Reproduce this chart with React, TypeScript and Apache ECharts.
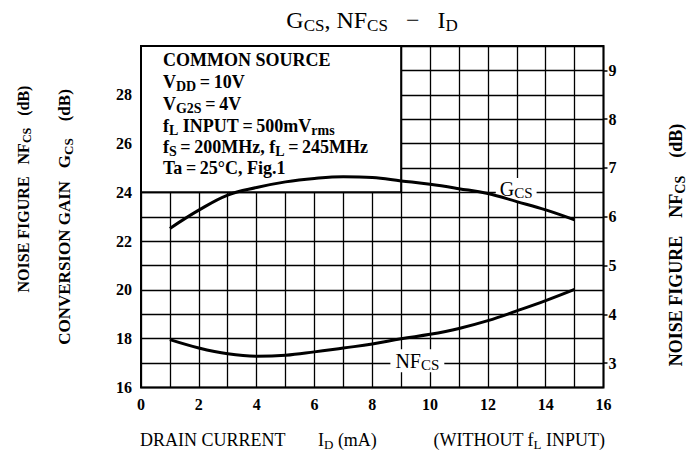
import React, { useEffect, useRef } from 'react';
import * as echarts from 'echarts';

// Drain current I_D (mA)
const currentMA = [1, 2, 3, 4, 5, 6, 7, 8, 9, 10, 11, 12, 13, 14, 15];
// Conversion gain G_CS (dB), left axis
const gcsDb = [22.52, 23.27, 23.89, 24.2, 24.43, 24.57, 24.64, 24.61, 24.47, 24.33, 24.15, 23.95, 23.62, 23.28, 22.87];
// Noise figure NF_CS (dB), right axis
const nfcsDb = [3.48, 3.31, 3.19, 3.14, 3.16, 3.23, 3.31, 3.39, 3.5, 3.59, 3.71, 3.87, 4.07, 4.28, 4.51];

const xTickLabels = [0, 2, 4, 6, 8, 10, 12, 14, 16];
const gainTickLabels = [16, 18, 20, 22, 24, 26, 28];
const noiseTickLabels = [3, 4, 5, 6, 7, 8, 9];

const SERIF = '"Liberation Serif", "DejaVu Serif", serif';
const EQ = '\u2009=\u2009';

export default function App() {
  const ref = useRef<HTMLDivElement>(null);

  useEffect(() => {
    if (!ref.current) return;
    const chart = echarts.init(ref.current, null, { renderer: 'svg' });

    const txt = (size: number, weight: string = 'bold') => ({
      fontSize: size,
      fontFamily: SERIF,
      fontWeight: weight,
      fill: '#000',
      color: '#000',
    });
    const sub = (size: number, pad: number, weight: string = 'bold') => ({
      ...txt(size, weight),
      padding: [pad, 0, 0, 0],
    });

    const insetLine = (y: number, text: string) => ({
      type: 'text',
      x: 163,
      y,
      z: 20,
      style: {
        text,
        ...txt(18),
        align: 'left',
        verticalAlign: 'middle',
        rich: { m: txt(18), s: sub(14, 9) },
      },
    });

    const rotated = (x: number, y: number, text: string, size: number, subSize: number) => ({
      type: 'text',
      x,
      y,
      rotation: Math.PI / 2,
      style: {
        text,
        align: 'center',
        verticalAlign: 'middle',
        rich: { m: txt(size), s: sub(subSize, 8) },
      },
    });

    const bottomText = (x: number, align: string, text: string) => ({
      type: 'text',
      x,
      y: 440,
      style: {
        text,
        align,
        verticalAlign: 'middle',
        rich: { m: txt(18, 'normal'), s: sub(13, 8, 'normal') },
      },
    });

    const gcsData = currentMA.map((x, i) => [x, gcsDb[i]]);
    const nfData = currentMA.map((x, i) => [x, nfcsDb[i]]);
    const gridLine = { color: '#000', width: 1.3 };

    const option: any = {
      animation: false,
      backgroundColor: '#fff',
      grid: {
        left: 141,
        right: 92.5,
        top: 46,
        bottom: 64.5,
        show: true,
        borderColor: '#000',
        borderWidth: 2,
        backgroundColor: '#fff',
        containLabel: false,
      },
      xAxis: {
        type: 'value',
        min: 0,
        max: 16,
        interval: 1,
        axisLine: { show: false },
        axisTick: { show: false },
        splitLine: { show: true, lineStyle: gridLine },
        axisLabel: {
          customValues: xTickLabels,
          margin: 9,
          ...txt(16),
        },
      },
      yAxis: [
        {
          type: 'value',
          min: 16,
          max: 30,
          interval: 1,
          position: 'left',
          axisLine: { show: false },
          axisTick: { show: false },
          splitLine: { show: true, lineStyle: gridLine },
          axisLabel: {
            customValues: gainTickLabels,
            margin: 9,
            ...txt(16),
          },
        },
        {
          type: 'value',
          min: 2.5,
          max: 9.5,
          interval: 0.5,
          position: 'right',
          axisLine: { show: false },
          axisTick: {
            show: true,
            customValues: noiseTickLabels,
            length: 4,
            lineStyle: { color: '#000', width: 1.5 },
          },
          splitLine: { show: false },
          axisLabel: {
            customValues: noiseTickLabels,
            margin: 5,
            ...txt(16),
          },
        },
      ],
      series: [
        {
          name: 'box',
          type: 'line',
          data: [],
          z: 1,
          silent: true,
          markArea: {
            silent: true,
            itemStyle: { color: '#fff', borderColor: '#000', borderWidth: 2 },
            data: [[{ coord: [0, 30] }, { coord: [9, 24] }]],
          },
        },
        {
          name: 'GCS',
          type: 'line',
          yAxisIndex: 0,
          data: gcsData,
          smooth: 0.4,
          symbol: 'none',
          z: 5,
          lineStyle: { color: '#000', width: 3 },
          markPoint: {
            symbol: 'rect',
            symbolSize: 1,
            itemStyle: { color: 'rgba(0,0,0,0)' },
            z: 3,
            label: {
              show: true,
              position: 'inside',
              formatter: '{m|G}{s|CS}',
              backgroundColor: '#fff',
              padding: [0, 4, 0, 4],
              rich: { m: txt(20, 'normal'), s: sub(15, 8, 'normal') },
            },
            data: [{ coord: [12.98, 24.12] }],
          },
        },
        {
          name: 'NFCS',
          type: 'line',
          yAxisIndex: 1,
          data: nfData,
          smooth: 0.4,
          symbol: 'none',
          z: 5,
          lineStyle: { color: '#000', width: 3 },
          markPoint: {
            symbol: 'rect',
            symbolSize: 1,
            itemStyle: { color: 'rgba(0,0,0,0)' },
            z: 3,
            label: {
              show: true,
              position: 'inside',
              formatter: '{m|NF}{s|CS}',
              backgroundColor: '#fff',
              padding: [0, 5, 0, 5],
              rich: { m: txt(20, 'normal'), s: sub(15, 8, 'normal') },
            },
            data: [{ coord: [9.56, 3.05] }],
          },
        },
      ],
      graphic: [
        {
          type: 'text',
          x: 372,
          y: 20,
          style: {
            text: '{m|G}{s|CS}{m|, NF}{s|CS}{m|   −   I}{s|D}',
            align: 'center',
            verticalAlign: 'middle',
            rich: { m: txt(24, 'normal'), s: sub(17, 10, 'normal') },
          },
        },
        insetLine(60, '{m|COMMON SOURCE}'),
        insetLine(82, `{m|V}{s|DD}{m|${EQ}10V}`),
        insetLine(104, `{m|V}{s|G2S}{m|${EQ}4V}`),
        insetLine(126, `{m|f}{s|L}{m| INPUT${EQ}500mV}{s|rms}`),
        insetLine(147, `{m|f}{s|S}{m|${EQ}200MHz, f}{s|L}{m|${EQ}245MHz}`),
        insetLine(168, `{m|Ta${EQ}25°C, Fig.1}`),
        rotated(23, 189, '{m|NOISE FIGURE   NF}{s|CS}{m|   (dB)}', 16, 12),
        rotated(64, 217, '{m|CONVERSION GAIN   G}{s|CS}{m|    (dB)}', 17, 13),
        rotated(676, 245, '{m|NOISE FIGURE    NF}{s|CS}{m|    (dB)}', 18, 14),
        bottomText(140, 'left', '{m|DRAIN CURRENT}'),
        bottomText(318, 'left', '{m|I}{s|D}{m| (mA)}'),
        bottomText(605, 'right', '{m|(WITHOUT f}{s|L}{m| INPUT)}'),
      ],
    };

    chart.setOption(option);
    return () => chart.dispose();
  }, []);

  return (
    <div
      ref={ref}
      style={{ position: 'fixed', left: 0, top: 0, width: 696, height: 452, background: '#fff' }}
    />
  );
}
